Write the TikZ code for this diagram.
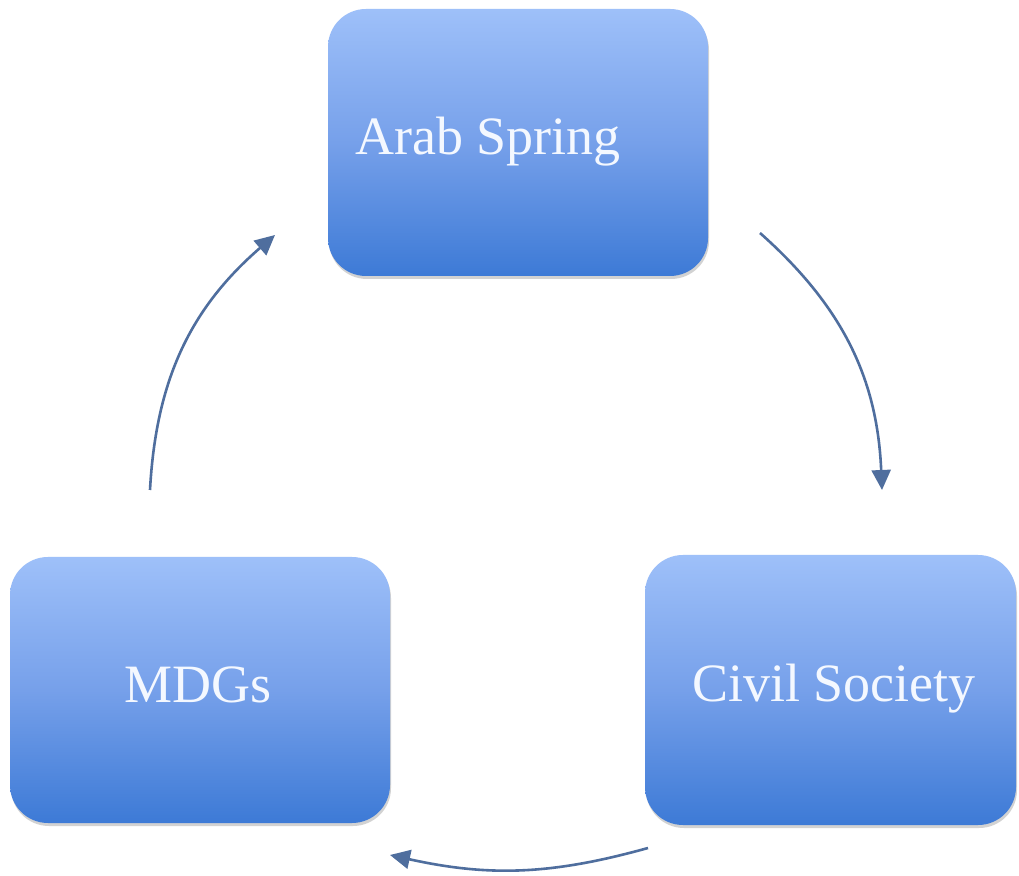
\documentclass[tikz,border=0pt]{standalone}
\usepackage{fontspec}
\setmainfont{Liberation Serif}
\usetikzlibrary{arrows.meta,shadows}
\definecolor{boxtop}{HTML}{9EC0F9}
\definecolor{boxmid}{HTML}{76A0EA}
\definecolor{boxbot}{HTML}{3D7AD6}
\definecolor{arrowc}{HTML}{4F6E9E}
\definecolor{txtc}{HTML}{F4F8FF}
\tikzset{
  box/.style={rounded corners=38pt, top color=boxtop, bottom color=boxbot, middle color=boxmid, draw=none,
    drop shadow={shadow xshift=1pt, shadow yshift=-3pt, opacity=0.35, fill=gray}},
  lbl/.style={text=txtc, font=\fontsize{54pt}{60pt}\selectfont, inner sep=0pt, anchor=base west},
  conn/.style={draw=arrowc, line width=2.6pt, -{Triangle[length=20pt,width=19pt]}}
}
\begin{document}
\begin{tikzpicture}[x=1pt,y=1pt]
\useasboundingbox (0,0) rectangle (1019,875);
\fill[white] (0,0) rectangle (1019,875);
% boxes
\path[box] (328,599) rectangle (708,866);
\path[box] (10,52) rectangle (390,318);
\path[box] (645,50) rectangle (1016,320);
% labels
\node[lbl] (arab) at (355,720) {Arab Spring};
\node[lbl] (mdg) at (124,172) {MDGs};
\node[lbl] (civil) at (692,173) {Civil Society};
% connector endpoints
\coordinate (a1) at (760,642);
\coordinate (a2) at (882,385);
\coordinate (b1) at (648,27);
\coordinate (b2) at (390,20);
\coordinate (c1) at (150,385);
\coordinate (c2) at (275,640);
\draw[conn] (a1) to[bend left=23] (a2);
\draw[conn] (b1) to[bend left=14] (b2);
\draw[conn] (c1) to[bend left=23] (c2);
\end{tikzpicture}
\end{document}
